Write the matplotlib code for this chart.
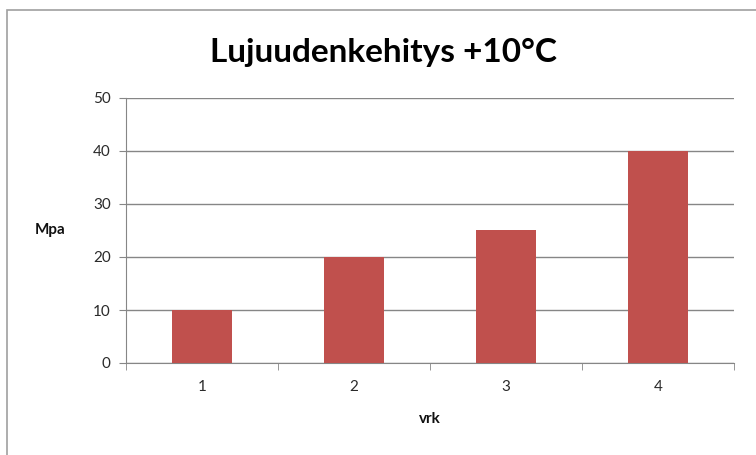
import matplotlib
matplotlib.use("Agg")
import matplotlib.pyplot as plt
from matplotlib.patches import Rectangle
from matplotlib.ticker import FixedLocator

# data
days = ["1", "2", "3", "4"]
strength = [10, 20, 25, 40]
y_ticks = [0, 10, 20, 30, 40, 50]

BAR = "#C0504D"
GRID = "#868686"
TXT = "#2a2a2a"

plt.rcParams["font.family"] = ["Lato", "DejaVu Sans"]

fig = plt.figure(figsize=(7.56, 4.55), dpi=100)
fig.patch.set_facecolor("white")

# chart frame (top and left edge visible)
fig.add_artist(Rectangle((7 / 756, -0.1), 1.2, 1 - 10 / 455 + 0.1,
                         transform=fig.transFigure, facecolor="none",
                         edgecolor="#a0a0a0", lw=1.2))

ax = fig.add_axes([126 / 756, 92 / 455, 608 / 756, 265 / 455])
x = range(len(days))
ax.bar(x, strength, width=0.4, color=BAR, zorder=3)

ax.set_xlim(-0.5, len(days) - 0.5)
ax.set_ylim(0, 50)
ax.set_yticks(y_ticks)
ax.set_xticks(list(x))
ax.set_xticklabels(days)
ax.xaxis.set_minor_locator(FixedLocator([i - 0.5 for i in range(len(days) + 1)]))
ax.tick_params(axis="x", which="major", length=0, pad=12, labelsize=11, labelcolor=TXT)
ax.tick_params(axis="x", which="minor", length=5, color=GRID, direction="out")
ax.tick_params(axis="y", length=5, color=GRID, pad=6, labelsize=11, labelcolor=TXT)

ax.grid(axis="y", color=GRID, lw=1, zorder=0)
for s in ["top", "right"]:
    ax.spines[s].set_visible(False)
for s in ["left", "bottom"]:
    ax.spines[s].set_color(GRID)

ax.set_xlabel("vrk", fontsize=11, fontweight="bold", labelpad=13, color="#111111")
ax.set_ylabel("Mpa", fontsize=11, fontweight="bold", rotation=0,
              labelpad=0, color="#111111", va="center", ha="center")
ax.yaxis.set_label_coords(-0.125, 0.5)

fig.text(384 / 756, 1 - 52 / 455, "Lujuudenkehitys +10°C", ha="center", va="center",
         fontsize=24, fontweight="bold", color="black")

fig.savefig("out.png", dpi=100)
